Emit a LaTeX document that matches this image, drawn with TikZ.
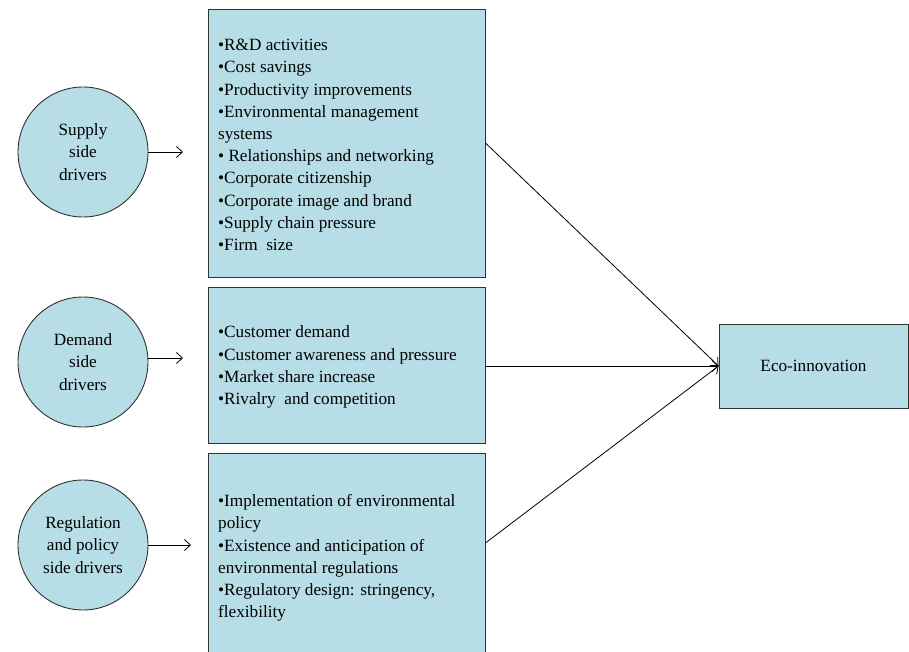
\documentclass[tikz,border=0pt]{standalone}
\usepackage{fontspec}
\setmainfont{Liberation Serif}
\usetikzlibrary{arrows.meta}
\definecolor{boxfill}{RGB}{183,221,230}
\definecolor{boxline}{RGB}{50,50,50}
\tikzset{
  bx/.style={draw=boxline, fill=boxfill, line width=0.9pt, rectangle, inner sep=0pt},
  circ/.style={draw=boxline, fill=boxfill, line width=0.9pt, circle, minimum size=130pt, inner sep=0pt, align=center, font=\fontsize{17.2}{22.2}\selectfont},
  txt/.style={align=left, anchor=west, inner sep=0pt, font=\fontsize{17.2}{22.2}\selectfont},
  arr/.style={line width=0.8pt, -{Straight Barb[length=6pt,width=11pt,line width=0.8pt]}},
}
\begin{document}
\begin{tikzpicture}[x=1pt,y=-1pt]
\useasboundingbox (0,0) rectangle (909,652);
\clip (0,0) rectangle (909,652);
% boxes
\node[bx, minimum width=277pt, minimum height=268pt] (b1) at (346.5,143) {};
\node[bx, minimum width=277pt, minimum height=156pt] (b2) at (346.5,365) {};
\node[bx, minimum width=277pt, minimum height=206pt] (b3) at (346.5,556) {};
\node[bx, minimum width=189pt, minimum height=84pt, font=\fontsize{17.2}{22}\selectfont] (eco) at (813.5,366) {Eco-innovation};
% texts
\node[txt] (t1) at (218,145) {•R\&D activities\\•Cost savings\\•Productivity improvements\\•Environmental management\\systems\\• Relationships and networking\\•Corporate citizenship\\•Corporate image and brand\\•Supply chain pressure\\•Firm\ \ size};
\node[txt] (t2) at (218,367) {•Customer demand\\•Customer awareness and pressure\\•Market share increase\\•Rivalry\ \ and competition};
\node[txt] (t3) at (218,558) {•Implementation of environmental\\policy\\•Existence and anticipation of\\environmental regulations\\•Regulatory design: stringency,\\flexibility};
% circles
\node[circ] (c1) at (83,152) {Supply\\side\\drivers};
\node[circ] (c2) at (83,362) {Demand\\side\\drivers};
\node[circ] (c3) at (83,545) {Regulation\\and policy\\side drivers};
% small arrows
\coordinate (e1) at (183,152);
\coordinate (e2) at (183,358);
\coordinate (e3) at (191,545);
\draw[arr] (c1.east) -- (e1);
\draw[arr] (c2.east |- e2) -- (e2);
\draw[arr] (c3.east) -- (e3);
% connectors to eco
\draw[arr] (b1.east |- 0,143) -- (eco.west);
\draw[arr] (b2.east |- eco.west) -- (eco.west);
\draw[arr] (b3.east |- 0,543) -- (eco.west);
\end{tikzpicture}
\end{document}
